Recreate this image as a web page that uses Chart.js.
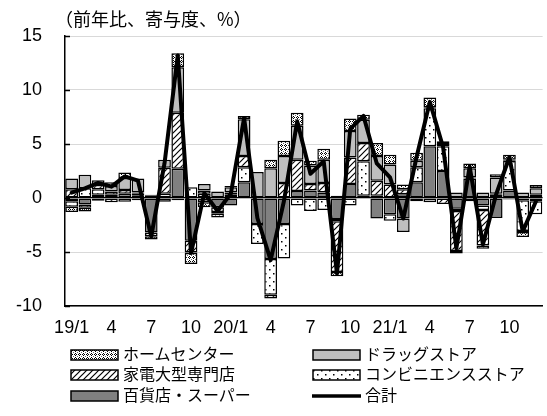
<!DOCTYPE html>
<html>
<head>
<meta charset="utf-8">
<script src="https://cdn.jsdelivr.net/npm/chart.js@4.4.1/dist/chart.umd.min.js"></script>
<style>
  body { margin: 0; background: #fff; }
  #wrap { position: relative; width: 547px; height: 416px; overflow: hidden; }
  #chart { position: absolute; left: 0; top: 0; }
  #title { position: absolute; left: 55px; top: 5px; font: 18px 'Noto Sans CJK JP', sans-serif; color: #000; white-space: nowrap; }
  .lg { position: absolute; font: 16px 'Noto Sans CJK JP', sans-serif; color: #000; white-space: nowrap; line-height: 20px; }
  .lg canvas { vertical-align: middle; margin-right: 4px; position: relative; top: -1px; }
</style>
</head>
<body>
<div id="wrap">
  <canvas id="chart" width="547" height="345"></canvas>
  <div id="title">（前年比、寄与度、%）</div>
  <div id="legend"></div>
</div>
<script>
// months 19/1 .. 21/12
const months = [
  '19/1','19/2','19/3','19/4','19/5','19/6','19/7','19/8','19/9','19/10','19/11','19/12',
  '20/1','20/2','20/3','20/4','20/5','20/6','20/7','20/8','20/9','20/10','20/11','20/12',
  '21/1','21/2','21/3','21/4','21/5','21/6','21/7','21/8','21/9','21/10','21/11','21/12'
];
const tickLabels = [
  '19/1','','','4','','','7','','','10','','',
  '20/1','','','4','','','7','','','10','','',
  '21/1','','','4','','','7','','','10','',''
];

// contributions (%pt)
const deptStore = [-0.3,-0.6,0.3,0.3,0.4,0.2,-3.2,-0.35,2.7,-3.95,-0.4,-0.85,
  -0.7,1.45,-2.4,-5.65,-2.4,0.65,0.7,0.5,-1.95,1.3,0.2,-1.9,
  -1.5,-1.9,1.45,4.8,2.5,-1.0,1.8,-0.7,-1.85,0.7,-0.2,-0.3];
const convenience = [-0.5,0.9,0.5,0.3,-0.35,0.2,-0.35,0.4,-0.2,1.0,0.4,-0.45,
  0.3,1.4,-1.85,-3.3,-3.2,-0.7,-1.2,-1.1,-0.2,-0.7,3.2,0.2,
  -0.6,0.35,1.4,3.5,2.3,-0.2,-0.3,-0.4,0.3,2.75,-2.85,-1.2];
const electronics = [0.8,-0.3,0.4,-0.4,0.35,0.1,0.2,2.4,5.2,-1.1,0.3,-0.15,
  0.2,1.05,0.0,-0.35,1.4,2.9,0.6,0.9,-4.7,2.45,1.7,1.4,
  1.25,0.45,-0.3,0.1,-0.55,-3.7,0.1,-3.3,0.1,0.1,-0.1,0.3];
const drugStore = [1.0,1.25,0.45,0.5,1.1,1.3,0.1,0.75,4.2,-0.05,0.6,0.6,
  0.5,3.4,2.4,2.75,2.5,3.15,1.7,2.15,0.2,2.45,2.15,2.3,
  1.85,-1.25,0.6,-0.4,0.2,0.5,0.85,0.5,1.5,-0.15,0.5,0.6];
const homeCenter = [-0.5,-0.35,-0.25,0.35,0.5,-0.2,-0.3,0.0,1.3,-1.0,-0.45,-0.35,
  0.1,0.3,0.0,0.8,1.4,1.2,0.45,1.0,-0.4,1.15,0.45,1.2,
  0.9,0.45,0.75,0.9,0.25,-0.25,0.45,-0.3,0.3,0.45,-0.45,0.3];
const total = [0.5,0.9,1.4,1.05,2.0,1.6,-3.55,3.2,13.2,-5.1,0.45,-1.2,
  0.4,7.4,-1.85,-5.75,-0.3,7.1,2.25,3.4,-7.0,6.4,7.6,3.2,
  1.9,-1.9,3.8,8.9,4.7,-4.65,2.9,-4.3,0.35,3.8,-3.1,-0.3];

function makePattern(kind) {
    const c = document.createElement('canvas');
    const g = c.getContext('2d');
    if (kind === 'home') {
        c.width = 4; c.height = 4;
        g.fillStyle = '#fff'; g.fillRect(0, 0, 4, 4);
        g.fillStyle = '#000';
        g.fillRect(1, 0, 1, 1); g.fillRect(0, 1, 1, 1); g.fillRect(2, 1, 1, 1); g.fillRect(1, 2, 1, 1);
        g.fillStyle = '#666'; g.fillRect(3, 3, 1, 1);
    } else if (kind === 'kaden') {
        c.width = 6; c.height = 6;
        g.fillStyle = '#fff'; g.fillRect(0, 0, 6, 6);
        g.strokeStyle = '#000'; g.lineWidth = 1.2;
        g.beginPath();
        g.moveTo(0, 6); g.lineTo(6, 0);
        g.moveTo(-1, 1); g.lineTo(1, -1);
        g.moveTo(5, 7); g.lineTo(7, 5);
        g.stroke();
    } else {
        c.width = 8; c.height = 8;
        g.fillStyle = '#fff'; g.fillRect(0, 0, 8, 8);
        g.fillStyle = '#000';
        g.fillRect(1, 1, 1.5, 1.5); g.fillRect(5, 5, 1.5, 1.5);
    }
    return g.createPattern(c, 'repeat');
}

const fills = {
    dept: '#808080',
    conv: makePattern('conv'),
    kaden: makePattern('kaden'),
    drug: '#bfbfbf',
    home: makePattern('home')
};

function barSet(label, data, fill) {
    return {
        type: 'bar', label: label, data: data,
        backgroundColor: fill, borderColor: '#000', borderWidth: 1.5,
        borderSkipped: false, stack: 'c', order: 1,
        barPercentage: 1.0, categoryPercentage: 0.96
    };
}

// small inside tick marks on the value axis
const axisMarks = {
    id: 'axisMarks',
    afterDraw(chart) {
        const ctx = chart.ctx;
        const y = chart.scales.y;
        const left = chart.chartArea.left;
        ctx.save();
        ctx.strokeStyle = '#000';
        ctx.lineWidth = 1.5;
        y.ticks.forEach(t => {
            const py = Math.round(y.getPixelForValue(t.value)) + 0.5;
            ctx.beginPath();
            ctx.moveTo(left, py);
            ctx.lineTo(left + 5, py);
            ctx.stroke();
        });
        ctx.restore();
    }
};

Chart.defaults.font.family = "'Liberation Sans', 'Noto Sans CJK JP', sans-serif";
Chart.defaults.font.size = 18;
Chart.defaults.color = '#000';

new Chart(document.getElementById('chart'), {
    data: {
        labels: months,
        datasets: [
            {
                type: 'line', label: '合計', data: total,
                borderColor: '#000', borderWidth: 4, pointRadius: 0,
                borderJoinStyle: 'round', borderCapStyle: 'round',
                tension: 0, fill: false, stack: 'total', order: 0
            },
            barSet('百貨店・スーパー', deptStore, fills.dept),
            barSet('コンビニエンスストア', convenience, fills.conv),
            barSet('家電大型専門店', electronics, fills.kaden),
            barSet('ドラッグストア', drugStore, fills.drug),
            barSet('ホームセンター', homeCenter, fills.home)
        ]
    },
    options: {
        responsive: false,
        animation: false,
        devicePixelRatio: 1,
        layout: { padding: { left: 0, right: 2, top: 36, bottom: 0 } },
        plugins: { legend: { display: false }, tooltip: { enabled: false } },
        scales: {
            x: {
                stacked: true,
                grid: { display: false, drawTicks: false },
                border: { color: '#000', width: 1.5 },
                ticks: {
                    autoSkip: false, maxRotation: 0, minRotation: 0, padding: 11,
                    callback: (v, i) => tickLabels[i]
                },
                afterFit: s => { s.height = 39; }
            },
            y: {
                stacked: true,
                min: -10, max: 15,
                grid: {
                    drawTicks: false,
                    color: c => c.tick.value === 0 ? '#000' : '#d9d9d9',
                    lineWidth: c => c.tick.value === 0 ? 1.2 : 1
                },
                border: { color: '#000', width: 1.5 },
                ticks: { stepSize: 5, padding: 23 },
                afterFit: s => { s.width = 65; }
            }
        }
    },
    plugins: [axisMarks]
});

// legend: 2 columns x 3 rows, as in the source
const legendItems = [
    { text: 'ホームセンター', fill: fills.home, x: 70, y: 343 },
    { text: 'ドラッグストア', fill: fills.drug, x: 312, y: 343 },
    { text: '家電大型専門店', fill: fills.kaden, x: 70, y: 363 },
    { text: 'コンビニエンスストア', fill: fills.conv, x: 312, y: 363 },
    { text: '百貨店・スーパー', fill: fills.dept, x: 70, y: 384 },
    { text: '合計', line: true, x: 312, y: 384 }
];
const legendEl = document.getElementById('legend');
legendItems.forEach(item => {
    const div = document.createElement('div');
    div.className = 'lg';
    div.style.left = item.x + 'px';
    div.style.top = item.y + 'px';
    const sw = document.createElement('canvas');
    sw.width = 49; sw.height = 12;
    const g = sw.getContext('2d');
    if (item.line) {
        g.strokeStyle = '#000'; g.lineWidth = 3.5;
        g.beginPath(); g.moveTo(0, 6); g.lineTo(49, 6); g.stroke();
    } else {
        g.fillStyle = item.fill; g.fillRect(1, 1, 47, 10);
        g.strokeStyle = '#000'; g.lineWidth = 1.5; g.strokeRect(1, 1, 47, 10);
    }
    div.appendChild(sw);
    div.appendChild(document.createTextNode(item.text));
    legendEl.appendChild(div);
});
</script>
</body>
</html>
